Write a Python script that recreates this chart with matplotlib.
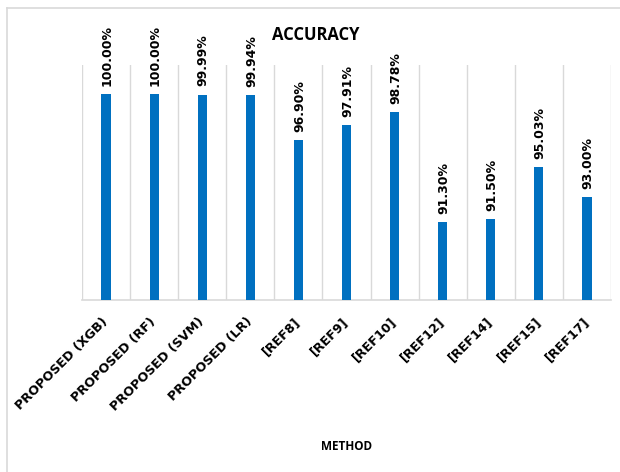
import matplotlib
matplotlib.use("Agg")
import matplotlib.pyplot as plt
from matplotlib.lines import Line2D

# Accuracy of each method (percent)
methods = [
    "PROPOSED (XGB)", "PROPOSED (RF)", "PROPOSED (SVM)", "PROPOSED (LR)",
    "[REF8]", "[REF9]", "[REF10]", "[REF12]", "[REF14]", "[REF15]", "[REF17]",
]
accuracy = [100.00, 100.00, 99.99, 99.94, 96.90, 97.91, 98.78, 91.30, 91.50, 95.03, 93.00]

y_min, y_max = 86, 102

BAR_COLOR = "#0070C0"
GRID_COLOR = "#D9D9D9"

W, H = 620, 472
fig = plt.figure(figsize=(W / 100, H / 100), dpi=100)
fig.patch.set_facecolor("white")

# chart-area frame (only top and left edges fall inside the image)
fig.add_artist(Line2D([7 / W, 7 / W], [1 - 8 / H, 0], color=GRID_COLOR, lw=1.2))
fig.add_artist(Line2D([7 / W, 1], [1 - 8 / H, 1 - 8 / H], color=GRID_COLOR, lw=1.2))

left, right, top, bottom = 82, 611, 65, 300
ax = fig.add_axes([left / W, 1 - bottom / H, (right - left) / W, (bottom - top) / H])

x = list(range(len(methods)))
ax.bar(x, accuracy, width=0.19, color=BAR_COLOR, zorder=3)
ax.set_ylim(y_min, y_max)
ax.set_xlim(-0.5, len(methods) - 0.5)

# vertical separators between categories
for b in [i - 0.5 for i in range(len(methods) + 1)]:
    ax.axvline(b, color=GRID_COLOR, lw=1.0, zorder=1)

for s in ["top", "right", "left"]:
    ax.spines[s].set_visible(False)
ax.spines["bottom"].set_color(GRID_COLOR)
ax.spines["bottom"].set_linewidth(1.2)
ax.set_yticks([])

ax.set_xticks(x)
ax.set_xticklabels(methods, rotation=45, ha="right", va="center",
                   rotation_mode="anchor", fontfamily="DejaVu Sans",
                   fontweight="bold", fontsize=9.2, color="#000000")
ax.tick_params(axis="x", length=0, pad=14)

# value labels above each bar
for xi, v in zip(x, accuracy):
    ax.annotate(f"{v:.2f}%", xy=(xi, v), xytext=(0.8, 6), textcoords="offset points",
                rotation=90, ha="center", va="bottom", fontfamily="DejaVu Sans",
                fontweight="bold", fontsize=9, color="#000000")

fig.text(316 / W, 1 - 34.5 / H, "ACCURACY", ha="center", va="center",
         fontfamily="Open Sans", fontweight="bold", fontsize=12, color="#000000")
fig.text(346.5 / W, 1 - 446.7 / H, "METHOD", ha="center", va="center",
         fontfamily="Open Sans", fontweight="bold", fontsize=8.5, color="#000000")

fig.savefig("out.png", dpi=100, facecolor="white")
